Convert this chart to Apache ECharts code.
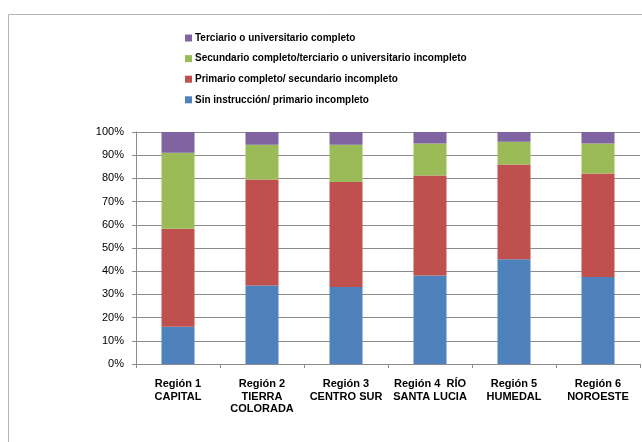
<!DOCTYPE html>
<html>
<head>
<meta charset="utf-8">
<script src="https://cdn.jsdelivr.net/npm/echarts@6/dist/echarts.min.js"></script>
<style>html,body{margin:0;padding:0;background:#fff}#c{width:642px;height:442px}</style>
</head>
<body>
<div id="c"></div>
<script>
var categories = ['Región 1\nCAPITAL', 'Región 2\nTIERRA\nCOLORADA', 'Región 3\nCENTRO SUR', 'Región 4  RÍO\nSANTA LUCIA', 'Región 5\nHUMEDAL', 'Región 6\nNOROESTE'];
var seriesNames = ['Sin instrucción/ primario incompleto', 'Primario completo/ secundario incompleto', 'Secundario completo/terciario o universitario incompleto', 'Terciario o universitario completo'];
var sinInstruccion = [16.1, 33.8, 33.2, 38.1, 45.2, 37.5];
var primarioCompleto = [42.2, 45.7, 45.2, 43.2, 40.8, 44.6];
var secundarioCompleto = [32.8, 15.0, 16.1, 13.7, 9.8, 12.9];
var terciarioCompleto = [8.9, 5.5, 5.5, 5.0, 4.2, 5.0];
var yTicks = [0, 10, 20, 30, 40, 50, 60, 70, 80, 90, 100];
var colors = ['#4f81bd', '#c0504d', '#9bbb59', '#8064a2'];
var values = [sinInstruccion, primarioCompleto, secundarioCompleto, terciarioCompleto];

var chart = echarts.init(document.getElementById('c'), null, {renderer: 'canvas'});
chart.setOption({
  animation: false,
  graphic: [{
    type: 'rect', shape: {x: 8.5, y: 14.5, width: 700, height: 500},
    style: {fill: 'none', stroke: '#b4b4b4', lineWidth: 1}, silent: true, z: -1
  }],
  legend: {
    orient: 'vertical', left: 185, top: 33, padding: 0,
    itemWidth: 7, itemHeight: 7, itemGap: 10.6,
    icon: 'rect',
    data: [seriesNames[3], seriesNames[2], seriesNames[1], seriesNames[0]],
    textStyle: {fontFamily: 'Liberation Sans', fontWeight: 'bold', fontSize: 10, color: '#000', padding: [0, 0, 0, -2], lineHeight: 10}
  },
  grid: {left: 136, right: 2, top: 132, bottom: 78},
  xAxis: {
    type: 'category', data: categories,
    axisLine: {lineStyle: {color: '#8c8c8c'}},
    axisTick: {show: true, length: 4, alignWithLabel: false, lineStyle: {color: '#8c8c8c'}},
    axisLabel: {interval: 0, margin: 14, fontFamily: 'Liberation Sans', fontWeight: 'bold', fontSize: 11, color: '#000', lineHeight: 12.5}
  },
  yAxis: {
    type: 'value', min: yTicks[0], max: yTicks[yTicks.length - 1], interval: 10,
    axisLine: {show: true, lineStyle: {color: '#8c8c8c'}},
    axisTick: {show: true, length: 4, lineStyle: {color: '#8c8c8c'}},
    splitLine: {lineStyle: {color: '#8c8c8c'}},
    axisLabel: {formatter: '{value}%', margin: 12, fontFamily: 'Liberation Sans', fontSize: 11, color: '#000'}
  },
  series: values.map(function (v, i) {
    return {
      name: seriesNames[i], type: 'bar', stack: 'total', data: v,
      barWidth: 33, itemStyle: {color: colors[i]}
    };
  })
});
</script>
</body>
</html>
